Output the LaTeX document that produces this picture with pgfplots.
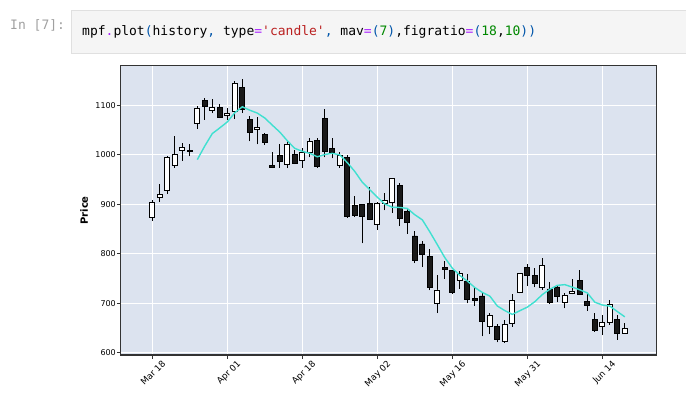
\documentclass[border=0pt]{standalone}
\usepackage{pgfplots}
\pgfplotsset{compat=1.18}
\usepackage{pgfplotstable}
\usepackage{fontspec}
\setmainfont{DejaVu Sans}
\newfontfamily\codefont{DejaVu Sans Mono}
\definecolor{axbg}{HTML}{DCE3EF}
\definecolor{frame}{HTML}{333333}
\definecolor{mavc}{HTML}{40E0D0}
\definecolor{cpurple}{HTML}{AA22FF}
\definecolor{cblue}{HTML}{0055AA}
\definecolor{cstr}{HTML}{BA2121}
\definecolor{cnum}{HTML}{008800}
\definecolor{boxbg}{HTML}{F5F5F5}
\definecolor{boxbd}{HTML}{E0E0E0}
\definecolor{prompt}{HTML}{A0A0A0}

\pgfplotstableread{
i O H L C
0 874 908 866 904
1 914 942 905 920
2 928 997 921 994
3 979 1039 974 1000
4 1008 1023 988 1014
5 1009 1021 997 1007
6 1063 1098 1053 1093
7 1109 1115 1071 1097
8 1090 1113 1084 1095
9 1095 1102 1074 1075
10 1079 1094 1070 1084
11 1088 1149 1072 1144
12 1136 1153 1085 1091
13 1072 1078 1027 1045
14 1051 1076 1021 1056
15 1041 1045 1020 1025
16 979 1006 973 974
17 998 1021 974 986
18 981 1027 973 1022
19 1000 1010 981 983
20 988 1013 973 1004
21 1004 1033 995 1027
22 1029 1033 974 976
23 1074 1092 995 1006
24 1013 1033 993 1004
25 978 1006 974 998
26 995 999 873 875
27 898 916 875 878
28 900 901 821 875
29 902 934 868 869
30 860 905 848 902
31 902 922 888 908
32 903 954 883 952
33 938 944 856 871
34 886 893 841 864
35 836 846 781 786
36 820 826 773 798
37 795 809 726 732
38 700 758 680 727
39 773 786 750 768
40 767 768 719 723
41 746 766 729 760
42 745 760 700 707
43 709 730 695 706
44 715 720 633 663
45 654 680 638 675
46 654 658 621 628
47 624 666 620 658
48 660 719 653 706
49 722 760 720 760
50 773 779 735 756
51 756 771 732 740
52 733 791 727 776
53 729 743 699 702
54 733 734 702 714
55 702 720 690 716
56 721 750 718 725
57 747 768 717 718
58 704 718 685 696
59 668 680 643 645
60 653 677 636 662
61 662 706 657 698
62 668 676 626 640
63 640 661 640 650
}\candles

\pgfplotstableread{
i m
6 990.3
7 1017.9
8 1042.9
9 1054.4
10 1066.4
11 1085.0
12 1097.0
13 1090.1
14 1084.3
15 1074.3
16 1059.9
17 1045.9
18 1028.4
19 1013.0
20 1007.1
21 1003.0
22 996.0
23 1000.6
24 1003.1
25 999.7
26 984.3
27 966.3
28 944.6
29 929.3
30 914.4
31 900.7
32 894.1
33 893.6
34 891.6
35 878.9
36 868.7
37 844.4
38 818.6
39 792.3
40 771.1
41 756.3
42 745.0
43 731.9
44 722.0
45 714.6
46 694.6
47 685.3
48 677.6
49 685.1
50 692.3
51 703.3
52 717.7
53 728.3
54 736.3
55 737.7
56 732.7
57 727.3
58 721.0
59 702.3
60 696.6
61 694.3
62 683.4
63 672.7
}\mav

\pgfplotsset{
  geom/.style={width=536.2pt, height=289.5pt, scale only axis,
    at={(120.5pt,-65.7pt)}, anchor=north west,
    xmin=-4.24, xmax=67.25, ymin=595.2, ymax=1180, enlargelimits=false},
}

\begin{document}
\begin{tikzpicture}
\path[use as bounding box] (0pt,0pt) rectangle (686pt,-400pt);
% notebook cell
\node[anchor=west, inner sep=0pt, text=prompt, font=\codefont\fontsize{13}{15}\selectfont] at (10pt,-25pt) {In [7]:};
\draw[draw=boxbd, fill=boxbg, line width=0.8pt] (71pt,-10pt) rectangle (687pt,-53pt);
\node[anchor=west, inner sep=0pt, font=\codefont\fontsize{13}{15}\selectfont] at (82pt,-32pt)
{mpf\textcolor{cpurple}{.}plot\textcolor{cblue}{(}history\textcolor{cblue}{,} type\textcolor{cpurple}{=}\textcolor{cstr}{'candle'}\textcolor{cblue}{,} mav\textcolor{cpurple}{=}\textcolor{cblue}{(}\textcolor{cnum}{7}\textcolor{cblue}{)},figratio\textcolor{cpurple}{=}\textcolor{cblue}{(}\textcolor{cnum}{18},\textcolor{cnum}{10}\textcolor{cblue}{))}};

% axis 1: background, grid, ticks, wicks
\begin{axis}[geom,
  axis background/.style={fill=axbg},
  grid=major, major grid style={white, line width=0.9pt},
  xtick={0,10,20,30,40,50,60},
  xticklabels={Mar 18, Apr 01, Apr 18, May 02, May 16, May 31, Jun 14},
  ytick={600,700,800,900,1000,1100},
  tick align=outside, tick pos=left, major tick length=3.5pt,
  tick style={frame, line width=0.8pt},
  axis line style={frame, line width=1.5pt},
  /pgf/number format/assume math mode=true,
  /pgf/number format/1000 sep={},
  xticklabel style={rotate=45, anchor=north east, font=\fontsize{8.8}{10}\selectfont, inner sep=1pt, xshift=7pt, yshift=-6pt},
  yticklabel style={font=\fontsize{8}{9.5}\selectfont, inner sep=1pt},
  ylabel={Price},
  ylabel style={at={(axis description cs:-0.0677,0.5)}, anchor=center, font=\fontsize{10}{12}\selectfont\bfseries},
]
\addplot[black, line width=0.9pt, mark=none, quiver={u=0, v=\thisrow{H}-\thisrow{L}}] table[x=i, y=L] {\candles};
\end{axis}

% axis 2: candle bodies
\begin{axis}[geom, hide axis, ybar stacked, bar width=0.66]
\addplot[fill=none, draw=none] table[x=i, y expr={min(\thisrow{O},\thisrow{C})}] {\candles};
\addplot[fill=white, draw=black, line width=0.8pt] table[x=i, y expr={max(\thisrow{C}-\thisrow{O},0)}] {\candles};
\addplot[fill=black!90, draw=black, line width=0.8pt] table[x=i, y expr={max(\thisrow{O}-\thisrow{C},0)}] {\candles};
\end{axis}

% axis 3: moving average and frame
\begin{axis}[geom, xtick=\empty, ytick=\empty, axis line style={frame, line width=1.5pt}]
\addplot[mavc, line width=1.4pt, mark=none] table[x=i, y=m] {\mav};
\end{axis}
\end{tikzpicture}
\end{document}
